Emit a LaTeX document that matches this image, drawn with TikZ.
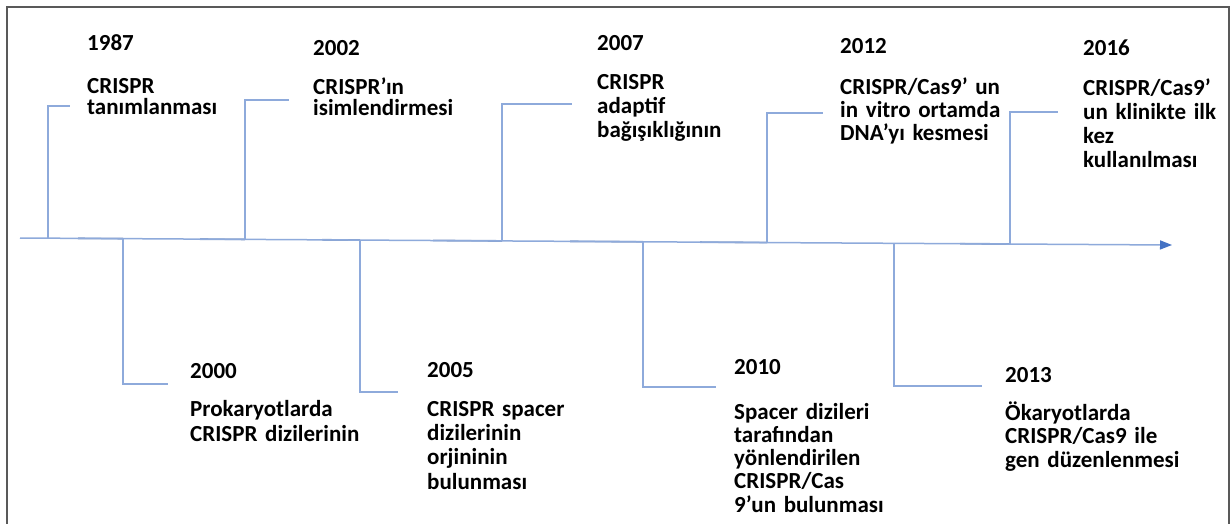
\documentclass[tikz,border=0pt]{standalone}
\usepackage{fontspec}
\setmainfont{Carlito}
\usetikzlibrary{arrows.meta}
\definecolor{lineblue}{HTML}{8EAADB}
\definecolor{darkblue}{HTML}{4472C4}
\definecolor{framegray}{HTML}{595959}
\begin{document}
\begin{tikzpicture}[x=1pt,y=-1pt,
  conn/.style={lineblue, line width=1.5pt},
  seg/.style={darkblue!85!black, line width=1.8pt, opacity=0.6},
  yr/.style={anchor=base west, inner sep=0pt, text width=220pt, align=left,
             font=\bfseries\fontsize{23}{24}\selectfont},
  desc/.style={anchor=base west, inner sep=0pt, text width=220pt, align=left,
             font=\bfseries\fontsize{23}{24}\selectfont}]
\useasboundingbox (0,0) rectangle (1232,523);
\fill[white] (0,0) rectangle (1232,523);
\draw[framegray, line width=1.6pt] (7,524) -- (7,7) -- (1229,7) -- (1229,524);

% timeline
\coordinate (start) at (20,238);
\coordinate (end) at (1172,245);
\foreach \a/\b in {78/123,200/245,322/360,433/502,570/643,700/767,960/1010}{
  \draw[seg] (\a,{238+7*(\a-20)/1152}) -- (\b,{238+7*(\b-20)/1152});
}
\draw[conn, -{Triangle[length=12pt,width=9pt,fill=darkblue,color=darkblue]}] (start) -- (end);

% points on timeline
\coordinate (t1987) at (48,238.2);
\coordinate (t2000) at (123,238.6);
\coordinate (t2002) at (245,239.4);
\coordinate (t2005) at (360,240.1);
\coordinate (t2007) at (502,240.9);
\coordinate (t2010) at (643,241.8);
\coordinate (t2012) at (767,242.5);
\coordinate (t2013) at (894,243.3);
\coordinate (t2016) at (1010,244.0);
% connector ends
\coordinate (e1987) at (70,106);
\coordinate (e2002) at (289,100);
\coordinate (e2007) at (572,104);
\coordinate (e2012) at (823,113);
\coordinate (e2016) at (1058,112);
\coordinate (e2000) at (168,384);
\coordinate (e2005) at (398,392);
\coordinate (e2010) at (716,387);
\coordinate (e2013) at (982,386);

\foreach \y in {1987,2002,2007,2012,2016,2000,2005,2010,2013}{
  \draw[conn] (t\y) |- (e\y);
}

% top labels
\node[yr] (y1987) at (87,50) {1987};
\node[desc, font=\bfseries\fontsize{23}{21}\selectfont] (d1987) at (87,93) {CRISPR\\tanımlanması};
\node[yr] (y2002) at (313,55) {2002};
\node[desc, font=\bfseries\fontsize{23}{21}\selectfont] (d2002) at (313,94) {CRISPR’ın\\isimlendirmesi};
\node[yr] (y2007) at (597,50) {2007};
\node[desc, font=\bfseries\fontsize{23}{24}\selectfont] (d2007) at (597,89) {CRISPR\\adaptif\\bağışıklığının};
\node[yr] (y2012) at (840,53) {2012};
\node[desc, font=\bfseries\fontsize{23}{23}\selectfont] (d2012) at (840,94) {CRISPR/Cas9’ un\\in vitro ortamda\\DNA’yı kesmesi};
\node[yr] (y2016) at (1083,55) {2016};
\node[desc, font=\bfseries\fontsize{23}{24}\selectfont] (d2016) at (1083,95) {CRISPR/Cas9’\\un klinikte ilk\\kez\\kullanılması};

% bottom labels
\node[yr] (y2000) at (190,378) {2000};
\node[desc, font=\bfseries\fontsize{23}{25}\selectfont] (d2000) at (190,416) {Prokaryotlarda\\CRISPR dizilerinin};
\node[yr] (y2005) at (427,377) {2005};
\node[desc, font=\bfseries\fontsize{23}{24.4}\selectfont] (d2005) at (427,416) {CRISPR spacer\\dizilerinin\\orjininin\\bulunması};
\node[yr] (y2010) at (734,374) {2010};
\node[desc, font=\bfseries\fontsize{23}{23.3}\selectfont] (d2010) at (734,419) {Spacer dizileri\\tarafından\\yönlendirilen\\CRISPR/Cas\\9’un bulunması};
\node[yr] (y2013) at (1005,382) {2013};
\node[desc, font=\bfseries\fontsize{23}{23.5}\selectfont] (d2013) at (1005,420) {Ökaryotlarda\\CRISPR/Cas9 ile\\gen düzenlenmesi};
\end{tikzpicture}
\end{document}
